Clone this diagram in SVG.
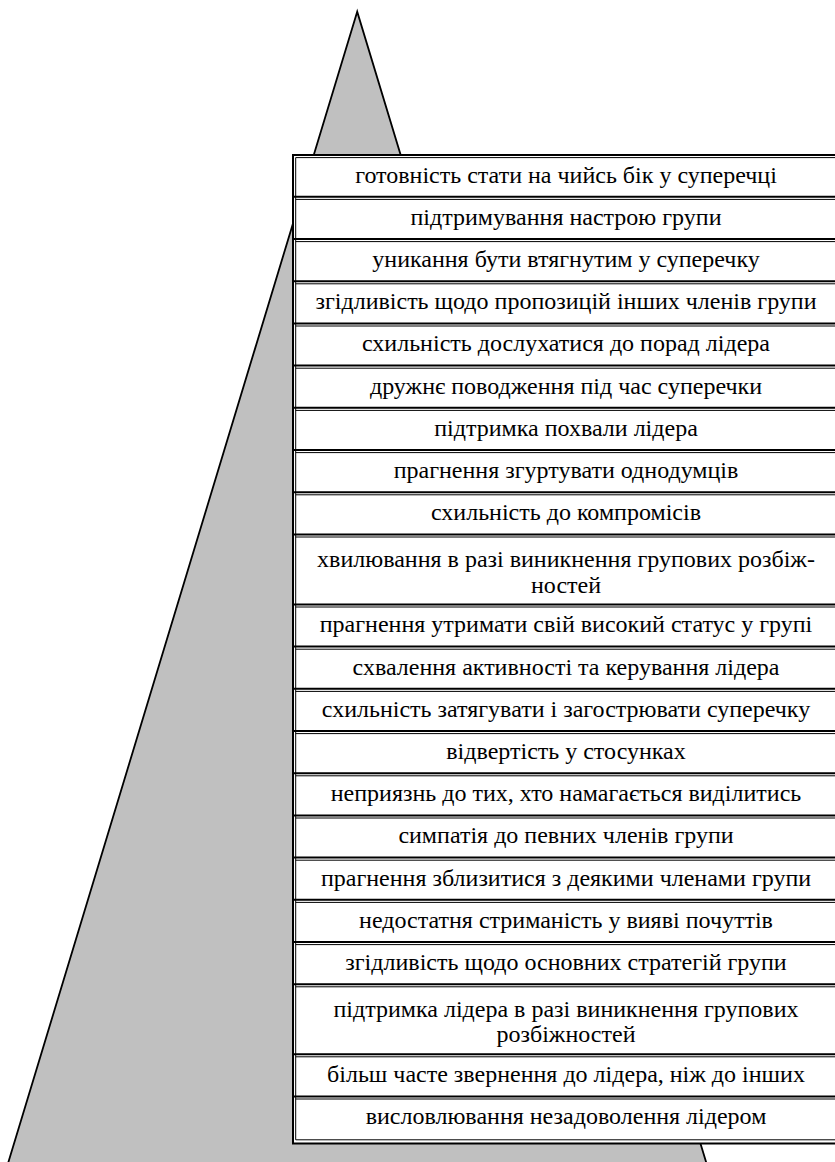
<svg xmlns="http://www.w3.org/2000/svg" width="835" height="1162" viewBox="0 0 835 1162">
<style>
.t{font-family:"Liberation Serif","Times New Roman",serif;font-size:24px;fill:#000;text-anchor:middle}
.thick{stroke:#000;stroke-width:2;fill:none}
.thin{stroke:#000;stroke-width:1;fill:none}
</style>
<rect width="835" height="1162" fill="#fff"/>
<g id="pyramid">
<polygon points="357.2,11.7 6,1170 708.5,1170" fill="#c0c0c0" stroke="#000" stroke-width="1.8"/>
</g>
<g id="table">
<rect x="292" y="154" width="550" height="990" fill="#fff"/>
<path class="thick" d="M293,1143.5 V155 H840"/>
<path class="thin" d="M295.7,1139.8 V157.6 H840"/>
<path class="thick" d="M292,1143.5 H840"/>
<path class="thin" d="M295.7,1139.8 H840"/>
<path class="thick" d="M293,196.8H840M293,239H840M293,281.2H840M293,323.4H840M293,365.6H840M293,407.8H840M293,450H840M293,492.2H840M293,534.4H840M293,604.4H840M293,646.6H840M293,688.8H840M293,731H840M293,773.2H840M293,815.4H840M293,857.6H840M293,899.8H840M293,942H840M293,984.2H840M293,1054.2H840M293,1096.4H840"/>
<path class="thin" d="M295.7,199.4H840M295.7,241.6H840M295.7,283.8H840M295.7,326H840M295.7,368.2H840M295.7,410.4H840M295.7,452.6H840M295.7,494.8H840M295.7,537H840M295.7,607H840M295.7,649.2H840M295.7,691.4H840M295.7,733.6H840M295.7,775.8H840M295.7,818H840M295.7,860.2H840M295.7,902.4H840M295.7,944.6H840M295.7,986.8H840M295.7,1056.8H840M295.7,1099H840"/>
</g>
<g id="row-1"><text class="t" x="566" y="182.5">готовність стати на чийсь бік у суперечці</text></g>
<g id="row-2"><text class="t" x="566" y="224.7">підтримування настрою групи</text></g>
<g id="row-3"><text class="t" x="566" y="266.9">уникання бути втягнутим у суперечку</text></g>
<g id="row-4"><text class="t" x="566" y="309.1">згідливість щодо пропозицій інших членів групи</text></g>
<g id="row-5"><text class="t" x="566" y="351.3">схильність дослухатися до порад лідера</text></g>
<g id="row-6"><text class="t" x="566" y="393.5">дружнє поводження під час суперечки</text></g>
<g id="row-7"><text class="t" x="566" y="435.7">підтримка похвали лідера</text></g>
<g id="row-8"><text class="t" x="566" y="477.9">прагнення згуртувати однодумців</text></g>
<g id="row-9"><text class="t" x="566" y="520.1">схильність до компромісів</text></g>
<g id="row-10"><text class="t" x="566" y="567">хвилювання в разі виникнення групових розбіж-</text><text class="t" x="566" y="592.5">ностей</text></g>
<g id="row-11"><text class="t" x="566" y="632.3">прагнення утримати свій високий статус у групі</text></g>
<g id="row-12"><text class="t" x="566" y="674.5">схвалення активності та керування лідера</text></g>
<g id="row-13"><text class="t" x="566" y="716.7">схильність затягувати і загострювати суперечку</text></g>
<g id="row-14"><text class="t" x="566" y="758.9">відвертість у стосунках</text></g>
<g id="row-15"><text class="t" x="566" y="801.1">неприязнь до тих, хто намагається виділитись</text></g>
<g id="row-16"><text class="t" x="566" y="843.3">симпатія до певних членів групи</text></g>
<g id="row-17"><text class="t" x="566" y="885.5">прагнення зблизитися з деякими членами групи</text></g>
<g id="row-18"><text class="t" x="566" y="927.7">недостатня стриманість у вияві почуттів</text></g>
<g id="row-19"><text class="t" x="566" y="969.9">згідливість щодо основних стратегій групи</text></g>
<g id="row-20"><text class="t" x="566" y="1016.8">підтримка лідера в разі виникнення групових</text><text class="t" x="566" y="1042.3">розбіжностей</text></g>
<g id="row-21"><text class="t" x="566" y="1081.9">більш часте звернення до лідера, ніж до інших</text></g>
<g id="row-22"><text class="t" x="566" y="1124.1">висловлювання незадоволення лідером</text></g>
</svg>
